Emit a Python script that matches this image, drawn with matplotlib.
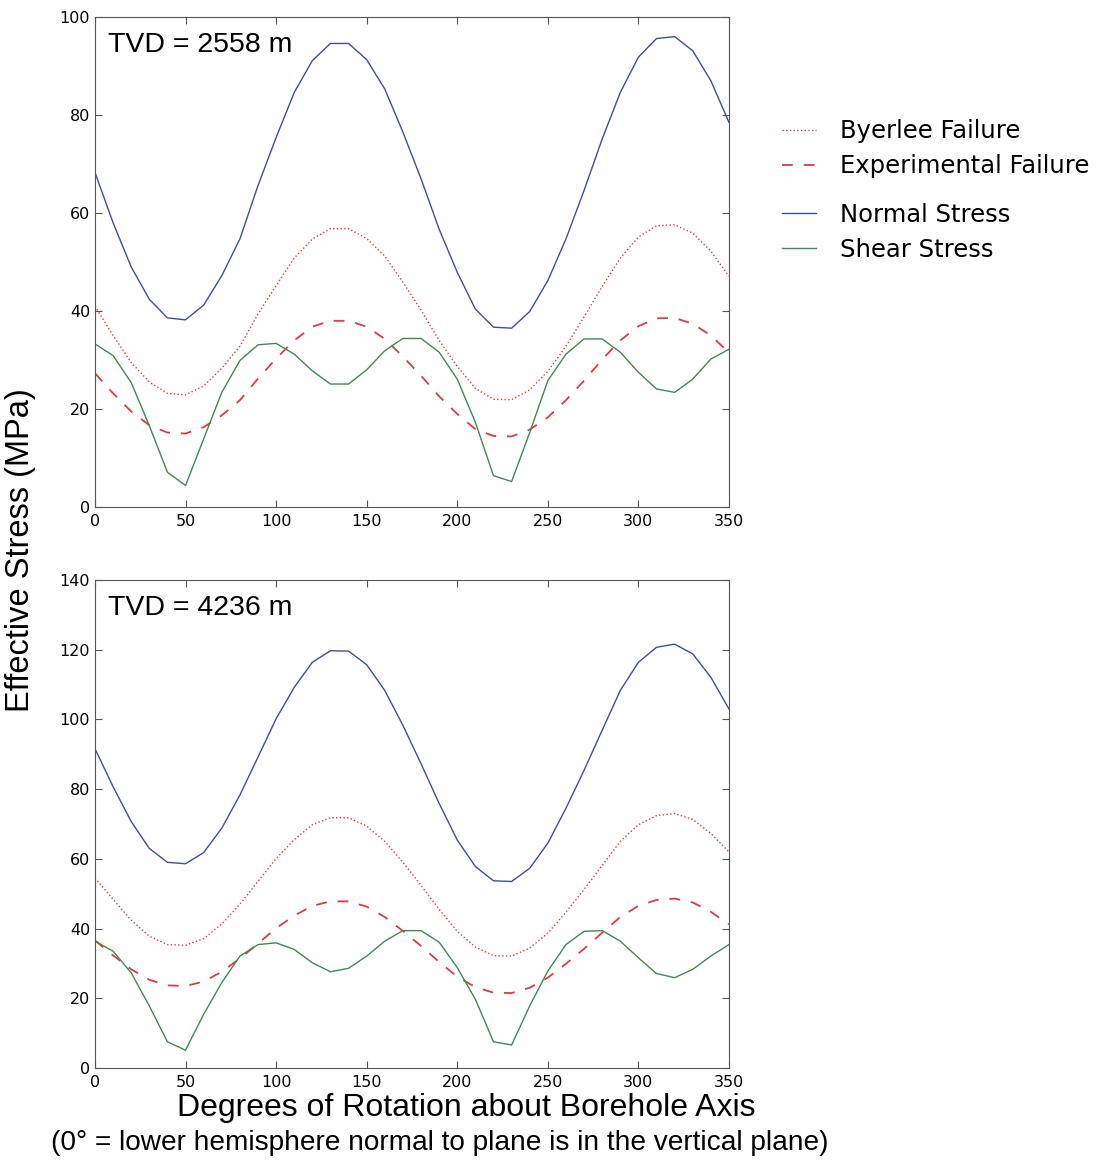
import numpy as np
from matplotlib import pyplot as plt
from matplotlib.lines import Line2D

# rotation angle (deg)
angle = np.arange(0, 360, 10)

# TVD = 2558 m
normal_top = [68.3, 58, 49, 42.4, 38.6, 38.2, 41.2, 47.2, 54.7, 65.6, 75.4, 84.6,
              91.1, 94.6, 94.6, 91.3, 85.3, 76.5, 67, 56.7, 47.9, 40.4, 36.7, 36.5,
              39.9, 46.2, 54.7, 64.6, 75.1, 84.6, 91.8, 95.6, 96, 93.1, 87, 78.5]
shear_top = [33.3, 30.9, 25.4, 16.6, 7.1, 4.4, 13.9, 23.4, 29.9, 33.1, 33.4, 31.2,
             27.8, 25.1, 25.1, 28, 31.9, 34.4, 34.4, 31.6, 26.1, 17.3, 6.4, 5.2,
             15.2, 25.8, 31.2, 34.3, 34.3, 31.6, 27.5, 24.1, 23.4, 26.1, 30.2, 32.2]
byerlee_top = [41, 35, 29.5, 25.5, 23.2, 22.9, 24.7, 28.3, 32.8, 39.4, 45.2, 50.8,
               54.7, 56.8, 56.8, 54.8, 51.2, 45.9, 40.2, 34, 28.7, 24.2, 22, 21.9,
               23.9, 27.7, 32.8, 38.8, 45, 50.8, 55.1, 57.4, 57.6, 55.9, 52.2, 47.1]
exper_top = [27.3, 23.2, 19.5, 16.7, 15.2, 15, 16.3, 18.7, 21.8, 26.2, 30.3, 34,
             36.8, 38, 38, 36.8, 34.3, 30.7, 26.8, 22.6, 19, 15.9, 14.5, 14.4,
             15.8, 18.3, 21.8, 25.8, 30.1, 34, 36.9, 38.5, 38.6, 37.4, 35, 31.5]

# TVD = 4236 m
normal_bot = [91.6, 80.7, 70.7, 63, 59, 58.6, 61.8, 68.8, 78.3, 89.2, 100.2, 109.2,
              116.4, 119.7, 119.6, 115.7, 108.3, 98.3, 87.3, 75.9, 65.4, 57.8, 53.7, 53.5,
              57.3, 64.5, 74.5, 85.4, 96.9, 108.3, 116.4, 120.7, 121.6, 118.8, 112.1, 103]
shear_bot = [36.4, 33.5, 27.3, 17.8, 7.5, 5.1, 15.4, 24.5, 32.1, 35.4, 35.9, 34,
             30.2, 27.6, 28.6, 32.1, 36.4, 39.4, 39.4, 36.1, 28.8, 19.7, 7.5, 6.6,
             17.8, 27.8, 35.4, 39.2, 39.4, 36.4, 31.6, 27.1, 25.9, 28.3, 32.1, 35.4]
byerlee_bot = [54.5, 48.4, 42.4, 37.8, 35.4, 35.2, 37.1, 41.3, 47, 53.5, 60.1, 65.5,
               69.8, 71.8, 71.8, 69.4, 65, 59, 52.4, 45.5, 39.2, 34.7, 32.2, 32.1,
               34.4, 38.7, 44.7, 51.2, 58.1, 65, 69.8, 72.4, 73, 71.3, 67.3, 62]
exper_bot = [36.6, 32.3, 28.3, 25.3, 23.7, 23.5, 24.8, 27.6, 31.4, 35.7, 40.1, 43.7,
             46.5, 47.8, 47.8, 46.3, 43.3, 39.3, 35, 30.4, 26.2, 23.2, 21.6, 21.5,
             23, 25.9, 29.9, 34.2, 38.8, 43.3, 46.5, 48.2, 48.6, 47.5, 44.8, 41.2]

c_normal = '#3d4f9a'
c_shear = '#3f8a4f'
c_red = '#e03a40'

fig = plt.figure(figsize=(11.03, 11.64), dpi=100)


def panel(rect, normal, shear, byerlee, exper, ymax, label):
    ax = fig.add_axes(rect)
    ax.plot(angle, byerlee, ':', color=c_red, lw=1.0)
    ax.plot(angle, exper, '--', color=c_red, lw=1.3, dashes=(6, 6))
    ax.plot(angle, normal, '-', color=c_normal, lw=1.0)
    ax.plot(angle, shear, '-', color=c_shear, lw=1.0)
    ax.set_xlim(0, 350)
    ax.set_ylim(0, ymax)
    ax.set_xticks(np.arange(0, 351, 50))
    ax.set_yticks(np.arange(0, ymax + 1, 20))
    ax.tick_params(direction='in', top=True, right=True, labelsize=11.5,
                   length=5, color='#555555')
    ax.tick_params(axis='x', pad=5)
    for s in ax.spines.values():
        s.set_color('#555555')
    ax.text(0.02, 0.97, label, transform=ax.transAxes, ha='left', va='top',
            fontsize=20.5, family='Liberation Sans')
    return ax


panel([0.0861, 0.5644, 0.5748, 0.421], normal_top, shear_top, byerlee_top,
      exper_top, 100, 'TVD = 2558 m')
panel([0.0861, 0.0825, 0.5748, 0.4192], normal_bot, shear_bot, byerlee_bot,
      exper_bot, 140, 'TVD = 4236 m')

fig.text(0.019, 0.527, 'Effective Stress (MPa)', rotation=90, ha='center',
         va='center', fontsize=23.5, family='Liberation Sans')
fig.text(0.4225, 0.048, 'Degrees of Rotation about Borehole Axis', ha='center',
         va='center', fontsize=23, family='Liberation Sans')
fig.text(0.399, 0.018, '(0° = lower hemisphere normal to plane is in the vertical plane)',
         ha='center', va='center', fontsize=20.2, family='Liberation Sans')

h1 = [Line2D([], [], ls=':', color=c_red, lw=1.0),
      Line2D([], [], ls='--', color=c_red, lw=1.3, dashes=(6, 6))]
h2 = [Line2D([], [], color=c_normal, lw=1.0),
      Line2D([], [], color=c_shear, lw=1.0)]
kw = dict(frameon=False, fontsize=17.5, handlelength=1.4, handletextpad=1.0,
          labelspacing=0.45, borderaxespad=0)
fig.legend(h1, ['Byerlee Failure', 'Experimental Failure'], loc='upper left',
           bbox_to_anchor=(0.70, 0.906), **kw)
fig.legend(h2, ['Normal Stress', 'Shear Stress'], loc='upper left',
           bbox_to_anchor=(0.70, 0.834), **kw)

fig.savefig('out.png', dpi=100)
